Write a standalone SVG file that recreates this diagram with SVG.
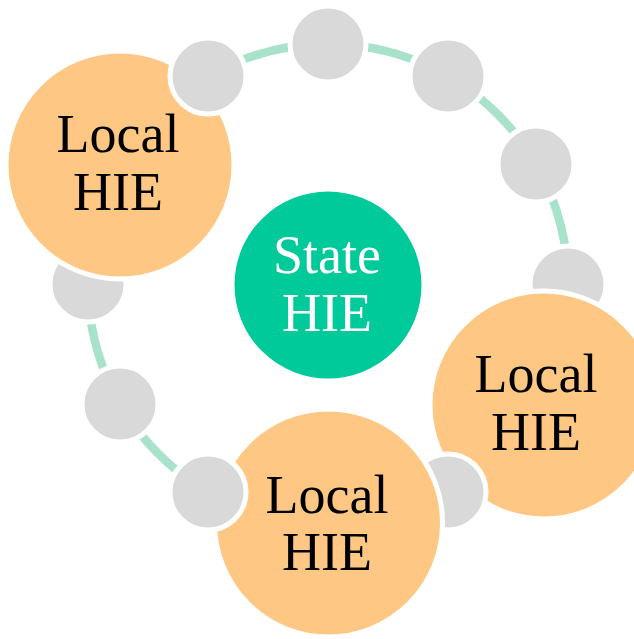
<svg xmlns="http://www.w3.org/2000/svg" width="634" height="639" viewBox="0 0 634 639">
<style>
.ring{fill:none;stroke:#a9e2ca;stroke-width:8.5}
.gray{fill:#d9d9d9;stroke:#ffffff;stroke-width:5}
.local{fill:#fec884;stroke:#ffffff;stroke-width:5}
.state{fill:#00c99a;stroke:#ffffff;stroke-width:3}
.t{font-family:"Liberation Serif","Times New Roman",serif;font-size:54px;text-anchor:middle}
.dark{fill:#000000}
.light{fill:#ffffff}
</style>
<rect width="634" height="639" fill="#ffffff"/>
<g id="connectors">
<circle class="ring" cx="328" cy="284" r="240"/>
</g>
<g id="state-hie">
<circle class="state" cx="328" cy="285" r="95"/>
<text class="t light" x="327" y="273">State</text>
<text class="t light" x="327" y="331">HIE</text>
</g>
<g id="dot-0"><circle class="gray" cx="568" cy="284" r="38"/></g>
<g id="local-hie-right">
<circle class="local" cx="544" cy="405" r="114"/>
<text class="t dark" x="536" y="392">Local</text>
<text class="t dark" x="536" y="450">HIE</text>
</g>
<g id="dot-60"><circle class="gray" cx="448" cy="492" r="38"/></g>
<g id="local-hie-bottom">
<circle class="local" cx="328.5" cy="523" r="114"/>
<text class="t dark" x="327" y="513">Local</text>
<text class="t dark" x="327" y="570">HIE</text>
</g>
<g id="dot-120"><circle class="gray" cx="208" cy="492" r="38"/></g>
<g id="dot-150"><circle class="gray" cx="120" cy="404" r="38"/></g>
<g id="dot-180"><circle class="gray" cx="88" cy="284" r="38"/></g>
<g id="local-hie-left">
<circle class="local" cx="120" cy="165" r="114"/>
<text class="t dark" x="118" y="152">Local</text>
<text class="t dark" x="118" y="210">HIE</text>
</g>
<g id="dot-240"><circle class="gray" cx="208" cy="76" r="38"/></g>
<g id="dot-270"><circle class="gray" cx="328" cy="44" r="38"/></g>
<g id="dot-300"><circle class="gray" cx="448" cy="76" r="38"/></g>
<g id="dot-330"><circle class="gray" cx="536" cy="164" r="38"/></g>
</svg>
